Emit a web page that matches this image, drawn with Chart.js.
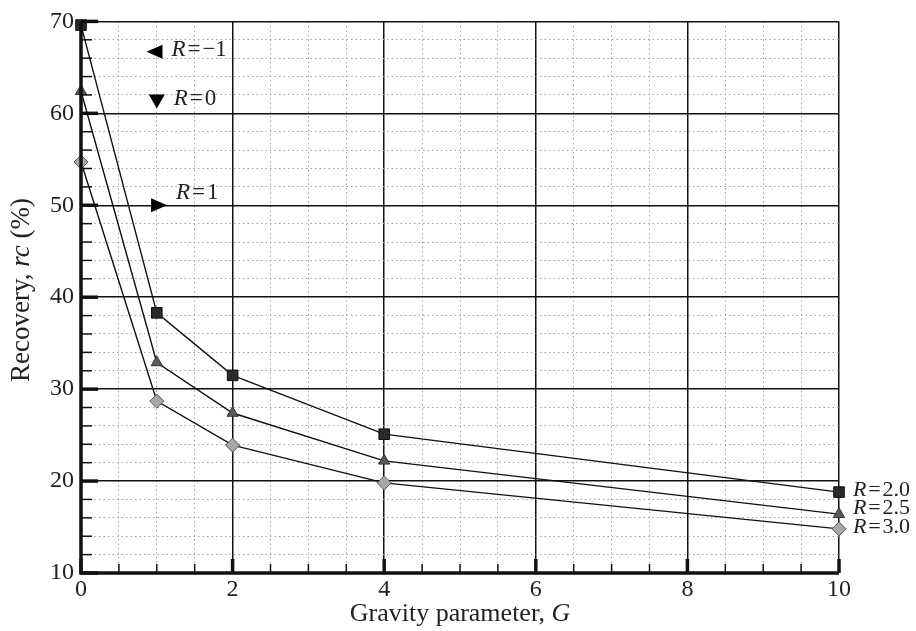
<!DOCTYPE html>
<html>
<head>
<meta charset="utf-8">
<script src="https://cdn.jsdelivr.net/npm/chart.js@4.4.1/dist/chart.umd.min.js"></script>
<style>
  html, body { margin: 0; padding: 0; background: #fff; }
  #wrap { width: 916px; height: 631px; }
</style>
</head>
<body>
<div id="wrap"><canvas id="chart"></canvas></div>
<script>
// gravity parameter G
const gValues = [0, 1, 2, 4, 10];

// recovery rc (%) per R
const rc20 = [69.6, 38.3, 31.5, 25.1, 18.8];
const rc25 = [62.4, 32.9, 27.4, 22.2, 16.4];
const rc30 = [54.7, 28.7, 23.9, 19.8, 14.8];

const seriesLabels = ["2.0", "2.5", "3.0"];

// keys drawn in the upper left (no curves in range)
const keyLabels = ["\u22121", "0", "1"];
const keyShapes = ["left", "down", "right"];
const keyG = [0.97, 1.0, 1.03];
const keyRc = [66.7, 61.3, 50.0];

const FONT = "'Liberation Serif', 'DejaVu Serif', serif";
Chart.defaults.font.family = FONT;
Chart.defaults.color = "#222";

function toPoints(ys) {
    return gValues.map((g, i) => ({ x: g, y: ys[i] }));
}

// draw runs of text, some italic; align "left" or "center"
function drawRuns(ctx, runs, x, y, size, align) {
    ctx.textBaseline = "middle";
    ctx.textAlign = "left";
    let total = 0;
    runs.forEach(r => {
        ctx.font = (r.it ? "italic " : "") + size + "px " + FONT;
        r.w = ctx.measureText(r.t).width;
        total += r.w;
    });
    let cx = align === "center" ? x - total / 2 : x;
    runs.forEach(r => {
        ctx.font = (r.it ? "italic " : "") + size + "px " + FONT;
        ctx.fillText(r.t, cx, y);
        cx += r.w;
    });
}

function rLabel(val) {
    return [{ t: "R", it: true }, { t: "\u200a=\u200a" + val }];
}

const innerTicks = {
    id: "innerTicks",
    afterDraw(chart) {
        const ctx = chart.ctx;
        const xs = chart.scales.x, ys = chart.scales.y;
        const area = chart.chartArea;
        ctx.save();
        ctx.strokeStyle = "#111";
        xs.ticks.forEach(t => {
            const px = xs.getPixelForValue(t.value);
            const major = Math.abs(t.value % 2) < 1e-6;
            ctx.lineWidth = major ? 3.5 : 1.5;
            ctx.beginPath();
            ctx.moveTo(px, area.bottom);
            ctx.lineTo(px, area.bottom - (major ? 14 : 9));
            ctx.stroke();
        });
        ys.ticks.forEach(t => {
            const py = ys.getPixelForValue(t.value);
            const major = Math.abs(t.value % 10) < 1e-6;
            ctx.lineWidth = major ? 3.5 : 1.5;
            ctx.beginPath();
            ctx.moveTo(area.left, py);
            ctx.lineTo(area.left + (major ? 17 : 11), py);
            ctx.stroke();
        });
        // thick left and bottom axes
        ctx.lineWidth = 3.5;
        ctx.beginPath();
        ctx.moveTo(area.left, area.top);
        ctx.lineTo(area.left, area.bottom);
        ctx.lineTo(area.right, area.bottom);
        ctx.stroke();

        // key markers and labels
        keyLabels.forEach((lab, i) => {
            const px = xs.getPixelForValue(keyG[i]);
            const py = ys.getPixelForValue(keyRc[i]);
            const s = 8, h = 7;
            ctx.fillStyle = "#000";
            ctx.beginPath();
            if (keyShapes[i] === "left") {
                ctx.moveTo(px - s, py); ctx.lineTo(px + s, py - h); ctx.lineTo(px + s, py + h);
            } else if (keyShapes[i] === "down") {
                ctx.moveTo(px - s, py - h); ctx.lineTo(px + s, py - h); ctx.lineTo(px, py + h);
            } else {
                ctx.moveTo(px + s, py); ctx.lineTo(px - s, py - h); ctx.lineTo(px - s, py + h);
            }
            ctx.closePath();
            ctx.fill();
            const ty = keyShapes[i] === "right" ? py - 12 : py - 2;
            ctx.fillStyle = "#222";
            drawRuns(ctx, rLabel(lab), px + 17, ty, 23, "left");
        });

        // series labels at right end
        const lastYs = [rc20, rc25, rc30].map(a => a[a.length - 1]);
        const nudge = [-2, -6, -2];
        ctx.fillStyle = "#222";
        seriesLabels.forEach((lab, i) => {
            const py = ys.getPixelForValue(lastYs[i]) + nudge[i];
            drawRuns(ctx, rLabel(lab), area.right + 14, py, 22, "left");
        });

        // axis titles
        drawRuns(ctx, [{ t: "Gravity parameter, " }, { t: "G", it: true }],
            (area.left + area.right) / 2, 614, 26, "center");
        ctx.save();
        ctx.translate(22, 290);
        ctx.rotate(-Math.PI / 2);
        drawRuns(ctx, [{ t: "Recovery, " }, { t: "rc", it: true }, { t: " (%)" }], 0, 0, 27, "center");
        ctx.restore();
        ctx.restore();
    }
};

function gridDash(ctx, step) {
    if (!ctx.tick) return [];
    return Math.abs(ctx.tick.value % step) < 1e-6 ? [] : [1.5, 3];
}

new Chart(document.getElementById("chart"), {
    type: "scatter",
    data: {
        datasets: [{
            label: "R = 2.0",
            data: toPoints(rc20),
            showLine: true,
            borderColor: "#111",
            borderWidth: 1.4,
            pointStyle: "rect",
            pointRadius: 7.5,
            pointBackgroundColor: "#2a2a2a",
            pointBorderColor: "#111",
            pointBorderWidth: 1,
            clip: false
        }, {
            label: "R = 2.5",
            data: toPoints(rc25),
            showLine: true,
            borderColor: "#111",
            borderWidth: 1.4,
            pointStyle: "triangle",
            pointRadius: 6.5,
            pointBackgroundColor: "#5a5a5a",
            pointBorderColor: "#333",
            pointBorderWidth: 1,
            clip: false
        }, {
            label: "R = 3.0",
            data: toPoints(rc30),
            showLine: true,
            borderColor: "#111",
            borderWidth: 1.4,
            pointStyle: "rectRot",
            pointRadius: 7,
            pointBackgroundColor: "#a8a8a8",
            pointBorderColor: "#555",
            pointBorderWidth: 1,
            clip: false
        }]
    },
    options: {
        responsive: true,
        maintainAspectRatio: false,
        animation: false,
        layout: { padding: { top: 21, right: 77, left: 0, bottom: 0 } },
        plugins: { legend: { display: false }, tooltip: { enabled: false } },
        scales: {
            x: {
                type: "linear",
                min: 0,
                max: 10,
                afterFit(scale) { scale.height = 58; },
                ticks: {
                    stepSize: 0.5,
                    autoSkip: false,
                    maxRotation: 0,
                    padding: 2,
                    font: { size: 24 },
                    color: "#222",
                    callback: v => (Math.abs(v % 2) < 1e-6 ? String(v) : "")
                },
                grid: {
                    drawTicks: false,
                    color: ctx => (ctx.tick && Math.abs(ctx.tick.value % 2) < 1e-6 ? "#111" : "#a5a5a5"),
                    lineWidth: ctx => (ctx.tick && Math.abs(ctx.tick.value % 2) < 1e-6 ? 1.5 : 1)
                },
                border: { display: false, dash: ctx => gridDash(ctx, 2) }
            },
            y: {
                min: 10,
                max: 70,
                afterFit(scale) { scale.width = 81; },
                ticks: {
                    stepSize: 2,
                    autoSkip: false,
                    padding: 7,
                    font: { size: 24 },
                    color: "#222",
                    callback: v => (Math.abs(v % 10) < 1e-6 ? String(v) : "")
                },
                grid: {
                    drawTicks: false,
                    color: ctx => (ctx.tick && Math.abs(ctx.tick.value % 10) < 1e-6 ? "#111" : "#a5a5a5"),
                    lineWidth: ctx => (ctx.tick && Math.abs(ctx.tick.value % 10) < 1e-6 ? 1.5 : 1)
                },
                border: { display: false, dash: ctx => gridDash(ctx, 10) }
            }
        }
    },
    plugins: [innerTicks]
});
</script>
</body>
</html>
